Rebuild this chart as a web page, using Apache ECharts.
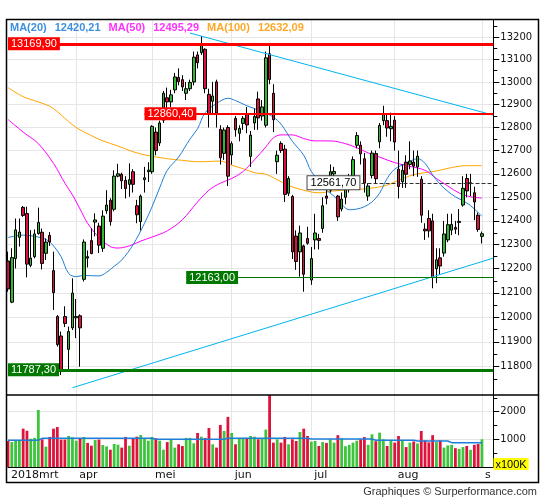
<!DOCTYPE html>
<html><head><meta charset="utf-8">
<script src="https://cdn.jsdelivr.net/npm/echarts@6/dist/echarts.min.js"></script>
<style>html,body{margin:0;padding:0;background:#fff}#c{width:545px;height:500px}</style>
</head><body><div id="c"></div>
<script>
// ---------- data ----------
const dates = [
'2018-03-06','2018-03-07','2018-03-08','2018-03-09','2018-03-12','2018-03-13','2018-03-14','2018-03-15','2018-03-16','2018-03-19','2018-03-20','2018-03-21','2018-03-22','2018-03-23','2018-03-26','2018-03-27','2018-03-28','2018-03-29',
'2018-04-03','2018-04-04','2018-04-05','2018-04-06','2018-04-09','2018-04-10','2018-04-11','2018-04-12','2018-04-13','2018-04-16','2018-04-17','2018-04-18','2018-04-19','2018-04-20','2018-04-23','2018-04-24','2018-04-25','2018-04-26','2018-04-27','2018-04-30',
'2018-05-02','2018-05-03','2018-05-04','2018-05-07','2018-05-08','2018-05-09','2018-05-10','2018-05-11','2018-05-14','2018-05-15','2018-05-16','2018-05-17','2018-05-18','2018-05-22','2018-05-23','2018-05-24','2018-05-25','2018-05-28','2018-05-29','2018-05-30','2018-05-31',
'2018-06-01','2018-06-04','2018-06-05','2018-06-06','2018-06-07','2018-06-08','2018-06-11','2018-06-12','2018-06-13','2018-06-14','2018-06-15','2018-06-18','2018-06-19','2018-06-20','2018-06-21','2018-06-22','2018-06-25','2018-06-26','2018-06-27','2018-06-28','2018-06-29',
'2018-07-02','2018-07-03','2018-07-04','2018-07-05','2018-07-06','2018-07-09','2018-07-10','2018-07-11','2018-07-12','2018-07-13','2018-07-16','2018-07-17','2018-07-18','2018-07-19','2018-07-20','2018-07-23','2018-07-24','2018-07-25','2018-07-26','2018-07-27','2018-07-30','2018-07-31',
'2018-08-01','2018-08-02','2018-08-03','2018-08-06','2018-08-07','2018-08-08','2018-08-09','2018-08-10','2018-08-13','2018-08-14','2018-08-15','2018-08-16','2018-08-17','2018-08-20','2018-08-21','2018-08-22','2018-08-23','2018-08-24','2018-08-27','2018-08-28','2018-08-29','2018-08-30','2018-08-31',
'2018-09-03'];
const emptySlots = [' ', '  ', '   '];

const opens = [12232,12062,12242,12331,12457,12431,12214,12250,12347,12352,12264,12339,12192,12003,11924,12003,11870,11957,
11998,12006,12156,12250,12317,12395,12378,12285,12443,12487,12449,12590,12598,12572,12555,12609,12464,12397,12575,12609,
12609,12780,12733,12832,12930,12912,12965,13020,13010,12950,12970,13000,13120,13130,13145,12945,12915,13000,12792,12688,12800,
12681,12840,12775,12818,12860,12675,12820,12925,12850,12810,13125,12950,12652,12731,12706,12517,12503,12336,12270,12295,12326,
12153,12320,12326,12368,12505,12530,12600,12505,12450,12500,12535,12580,12723,12723,12665,12505,12593,12687,12738,12830,12830,12795,
12832,12620,12566,12650,12640,12650,12630,12577,12365,12410,12400,12200,12245,12265,12320,12361,12372,12393,12467,12580,12558,12519,12424,
12335];
const highs = [12271,12285,12410,12410,12463,12460,12361,12364,12456,12368,12326,12353,12271,12009,11942,12045,11962,12160,
12075,12012,12322,12276,12369,12432,12392,12445,12530,12496,12615,12643,12605,12590,12645,12620,12489,12512,12630,12650,
12810,12800,12830,12960,12975,12965,13040,13060,13030,13000,13010,13135,13135,13204,13150,12970,13000,13010,12810,12800,12810,
12740,12850,12810,12850,12890,12785,12883,12957,12920,13135,13163,12990,12700,12740,12725,12590,12510,12360,12380,12300,12375,
12290,12430,12345,12500,12540,12640,12630,12510,12520,12560,12600,12675,12780,12740,12690,12560,12700,12700,12820,12895,12860,12865,
12850,12700,12640,12680,12740,12700,12700,12590,12390,12445,12430,12285,12285,12400,12430,12430,12400,12450,12590,12600,12600,12545,12435,
12355];
const lows = [12105,12058,12201,12292,12417,12164,12206,12243,12342,12197,12236,12295,12030,11881,11767,11960,11790,11948,
11915,11800,12147,12205,12260,12335,12265,12270,12430,12380,12440,12585,12535,12495,12502,12520,12390,12360,12520,12565,
12600,12680,12720,12820,12880,12890,12950,12985,12960,12920,12960,12985,13060,13120,12950,12800,12855,12800,12640,12660,12548,
12640,12760,12740,12790,12775,12630,12790,12790,12830,12800,12990,12780,12600,12690,12480,12505,12240,12195,12167,12105,12300,
12133,12280,12280,12350,12470,12520,12585,12400,12440,12470,12520,12560,12710,12640,12520,12485,12580,12560,12710,12810,12760,12740,
12700,12495,12540,12540,12620,12590,12587,12392,12320,12330,12119,12140,12174,12250,12310,12340,12345,12340,12460,12500,12505,12403,12354,
12305];
const closes = [12116,12246,12362,12353,12423,12219,12244,12345,12393,12222,12311,12311,12101,11889,11787,11975,11942,12099,
12003,11957,12311,12244,12263,12404,12298,12420,12467,12397,12590,12600,12570,12537,12575,12555,12426,12505,12583,12616,
12805,12700,12820,12950,12912,12943,13022,13001,12978,12970,12998,13110,13085,13170,12970,12861,12938,12863,12669,12789,12590,
12730,12790,12796,12840,12811,12767,12848,12842,12890,13107,13011,12834,12680,12700,12512,12580,12270,12230,12349,12177,12306,
12242,12349,12318,12464,12496,12609,12610,12417,12492,12541,12561,12661,12765,12686,12561,12548,12689,12579,12809,12860,12798,12805,
12737,12546,12615,12598,12655,12633,12676,12424,12358,12358,12163,12237,12211,12345,12384,12385,12365,12398,12538,12527,12562,12480,12364,
12346];
const volumes = [940,900,960,960,1385,1310,1020,1050,2060,1000,735,1085,1385,1445,990,990,1120,1070,
950,1035,1085,870,770,975,990,795,745,625,830,805,700,1085,770,1035,1095,1155,1035,950,
1085,1035,950,625,900,1010,700,820,760,1050,1050,855,1230,1095,1050,1410,820,700,1520,1300,1810,
1230,820,1050,1050,1050,1120,1095,1000,1050,1350,2600,880,1000,880,1085,820,1000,940,1265,1385,1120,
915,940,760,900,870,1000,880,1150,1030,750,800,880,950,1000,1080,800,1180,930,1240,1000,760,950,
880,1120,970,720,880,920,850,1300,960,890,1150,900,960,700,780,800,680,650,720,760,620,800,830,
1000];

// moving averages (candle index, value)
const ma20At  = [0,4,7,10,12,14,16,18,20,24,26,28,30,33,36,38,40,42,45,48,50,52,55,58,60,63,67,70,72,75,78,80,82,84,86,88,90,92,94,96,98,100,102,105,108,110,112,114,116,118,120,122,124,125];
const ma20Val = [12330,12340,12335,12322,12295,12250,12180,12167,12172,12170,12185,12210,12236,12300,12390,12460,12540,12615,12672,12750,12795,12865,12905,12928,12918,12895,12870,12845,12815,12740,12680,12610,12570,12530,12505,12470,12447,12450,12460,12480,12517,12580,12620,12645,12665,12645,12595,12555,12525,12502,12485,12465,12435,12420];
const ma50At  = [0,4,8,12,15,17,19,21,24,27,29,32,35,38,42,46,50,53,56,59,62,65,68,70,72,75,78,81,85,89,92,95,98,102,106,110,113,116,119,122,125];
const ma50Val = [12835,12780,12730,12645,12560,12510,12450,12390,12330,12292,12286,12295,12315,12332,12358,12405,12480,12530,12560,12580,12610,12660,12716,12755,12768,12768,12752,12742,12742,12730,12712,12690,12672,12648,12632,12615,12580,12548,12518,12502,12497];
const ma100At  = [0,4,8,11,13,15,17,19,22,25,29,33,37,42,46,50,53,56,59,62,65,68,71,74,78,82,86,91,95,100,104,108,113,117,121,125];
const ma100Val = [12975,12935,12912,12893,12870,12840,12812,12790,12765,12742,12720,12695,12678,12665,12658,12652,12653,12655,12637,12622,12605,12598,12575,12550,12530,12519,12527,12533,12537,12552,12580,12600,12612,12627,12635,12635];
const maLegendNames  = ['MA(20)', 'MA(50)', 'MA(100)'];
const maLegendValues = [12420.21, 12495.29, 12632.09];

const volMaAt  = [0,8,9,38,39,57,58,79,80,96,97,107,108,116,117,125];
const volMaVal = [965,965,1035,1035,1000,1000,1035,1035,1010,1010,965,965,940,940,880,880];

// trend lines (candle index, value)
const trendDownAt = [48, 128], trendDownVal = [13218, 12854];
const trendUpAt   = [17, 128], trendUpVal   = [11716, 12244];

// horizontal levels
const levelValues  = [13169.90, 12860.40, 12163.00, 11787.30, 12561.70];
const levelStartAt = [0, 36, 47, 0, 79];

const monthStartAt = [0, 18, 38, 59, 80, 102, 125];
const monthLabels  = ['2018mrt', 'apr', 'mei', 'jun', 'jul', 'aug', 's'];

const priceTicks = [11800,11900,12000,12100,12200,12300,12400,12500,12600,12700,12800,12900,13000,13100,13200];
const priceMinorTicks = [11750,11850,11950,12050,12150,12250,12350,12450,12550,12650,12750,12850,12950,13050,13150,13250];
const volTicks = [1000, 2000];
const volMinorTicks = [500, 1500, 2500];

// ---------- styles ----------
const C_UP = '#33b833', C_DOWN = '#d8123c';
const V_UP = '#3cc43c', V_DOWN = '#dc143c';
const GRIDC = '#e6e6e6';
const levelStyle = [
  {line:'#ff0000', w:3, type:'solid', bg:'#ff0000', fg:'#fff', border:null},
  {line:'#ff0000', w:2, type:'solid', bg:'#ff0000', fg:'#fff', border:null},
  {line:'#007800', w:1, type:'solid', bg:'#007800', fg:'#fff', border:null},
  {line:'#007800', w:3, type:'solid', bg:'#007800', fg:'#fff', border:null},
  {line:'#333333', w:1, type:'dashed', bg:'#ffffff', fg:'#000', border:'#444'}
];
const fmt = v => v.toFixed(2).replace('.', ',');
const categories = dates.concat(emptySlots);
const lastIdx = categories.length - 1;
const pairs = (a, b) => a.map((x, k) => [x, b[k]]);

const chart = echarts.init(document.getElementById('c'), null, {renderer: 'canvas'});

const GL = 8, GR = 545 - 493.3;
const PRICE_MIN = 11687, PRICE_MAX = 13279;

const logAxisBase = {
  type: 'log', logBase: 10, gridIndex: 0, position: 'right',
  min: PRICE_MIN, max: PRICE_MAX
};

const markData = levelValues.map((v, k) => {
  const s = levelStyle[k];
  return [
    { coord: [levelStartAt[k], v],
      lineStyle: { color: s.line, width: s.w, type: s.type },
      label: {
        show: true, position: 'insideStart', distance: [0, 0],
        formatter: fmt(v), color: s.fg, backgroundColor: s.bg,
        borderColor: s.border || 'transparent', borderWidth: s.border ? 1 : 0,
        padding: [1, 3, 0, 3], fontFamily: 'Liberation Sans', fontSize: 11, lineHeight: 12
      } },
    { coord: [lastIdx, v] }
  ];
});

const rich = {};
const legendColors = ['#3d8fe0', '#ff33ff', '#ffa726'];
let titleText = '';
maLegendNames.forEach((n, k) => {
  rich['n' + k] = { color: legendColors[k], fontFamily: 'Liberation Sans', fontSize: 11, padding: [0, 8, 0, 0] };
  rich['v' + k] = { color: legendColors[k], fontFamily: 'Liberation Sans', fontSize: 11, padding: [0, 8, 0, 0] };
  titleText += '{n' + k + '|' + n + '}{v' + k + '|' + fmt(maLegendValues[k]) + '}';
});

const isMonthStart = (i) => monthStartAt.indexOf(i) >= 0;

chart.setOption({
  animation: false,
  backgroundColor: '#fff',
  title: { text: titleText, left: 10, top: 21, padding: 0, textStyle: { rich: rich, fontSize: 11, lineHeight: 13 } },
  grid: [
    { left: GL, right: GR, top: 19.5, height: 375.5, containLabel: false },
    { left: GL, right: GR, top: 395, height: 72, containLabel: false }
  ],
  xAxis: [
    { type: 'category', gridIndex: 0, data: categories, boundaryGap: false,
      axisLine: { show: false }, axisTick: { show: false }, axisLabel: { show: false },
      splitLine: { show: true, interval: (i) => isMonthStart(i) && i > 0, lineStyle: { color: GRIDC, width: 1 } } },
    { type: 'category', gridIndex: 1, data: categories, boundaryGap: false,
      axisLine: { show: true, lineStyle: { color: '#000', width: 1 } }, axisTick: { show: false },
      axisLabel: { show: true, interval: (i) => isMonthStart(i), align: 'left', padding: [0, 0, 0, 3], margin: 3,
        formatter: (val, i) => monthLabels[monthStartAt.indexOf(i)] || '',
        fontFamily: 'DejaVu Sans', fontSize: 11, color: '#111' },
      splitLine: { show: true, interval: (i) => isMonthStart(i) && i > 0, lineStyle: { color: GRIDC, width: 1 } } }
  ],
  yAxis: [
    Object.assign({}, logAxisBase, {
      axisLine: { show: true, lineStyle: { color: '#000', width: 1 } },
      axisTick: { show: true, inside: false, length: 6, customValues: priceTicks, lineStyle: { color: '#000' } },
      axisLabel: { show: true, customValues: priceTicks, margin: 7, formatter: v => String(Math.round(v)),
        fontFamily: 'DejaVu Sans', fontSize: 10, color: '#111' },
      splitLine: { show: true, lineStyle: { color: GRIDC, width: 1 } }
    }),
    Object.assign({}, logAxisBase, {
      axisLine: { show: false },
      axisTick: { show: true, inside: false, length: 4, customValues: priceMinorTicks, lineStyle: { color: '#000' } },
      axisLabel: { show: false },
      splitLine: { show: false }
    }),
    { type: 'value', gridIndex: 1, position: 'right', min: 0, max: 2600,
      axisLine: { show: true, lineStyle: { color: '#000', width: 1 } },
      axisTick: { show: true, length: 6, customValues: volTicks, lineStyle: { color: '#000' } },
      axisLabel: { show: true, customValues: volTicks, margin: 7, formatter: v => String(Math.round(v)),
        fontFamily: 'DejaVu Sans', fontSize: 10, color: '#111' },
      splitLine: { show: true, lineStyle: { color: GRIDC, width: 1 } } },
    { type: 'value', gridIndex: 1, position: 'right', min: 0, max: 2600,
      axisLine: { show: false },
      axisTick: { show: true, length: 4, customValues: volMinorTicks, lineStyle: { color: '#000' } },
      axisLabel: { show: false }, splitLine: { show: false } }
  ],
  series: [
    { type: 'line', name: 'MA100', xAxisIndex: 0, yAxisIndex: 0, data: pairs(ma100At, ma100Val),
      showSymbol: false, smooth: 0.35, lineStyle: { color: '#ffa500', width: 1 }, z: 2 },
    { type: 'line', name: 'MA50', xAxisIndex: 0, yAxisIndex: 0, data: pairs(ma50At, ma50Val),
      showSymbol: false, smooth: 0.35, lineStyle: { color: '#ff00ff', width: 1 }, z: 2 },
    { type: 'line', name: 'MA20', xAxisIndex: 0, yAxisIndex: 0, data: pairs(ma20At, ma20Val),
      showSymbol: false, smooth: 0.35, lineStyle: { color: '#1f7fd8', width: 1 }, z: 2 },
    { type: 'candlestick', xAxisIndex: 0, yAxisIndex: 0, barWidth: 3,
      data: opens.map((o, i) => [o, closes[i], lows[i], highs[i]]),
      itemStyle: { color: C_UP, color0: C_DOWN, borderColor: '#000', borderColor0: '#000', borderColorDoji: '#000', borderWidth: 1 },
      z: 3,
      markLine: { silent: true, symbol: ['none', 'none'], animation: false, data: markData, z: 6 } },
    { type: 'line', name: 'trendDown', xAxisIndex: 0, yAxisIndex: 0, data: pairs(trendDownAt, trendDownVal),
      showSymbol: false, lineStyle: { color: '#00b4f0', width: 1 }, z: 4 },
    { type: 'line', name: 'trendUp', xAxisIndex: 0, yAxisIndex: 0, data: pairs(trendUpAt, trendUpVal),
      showSymbol: false, lineStyle: { color: '#00b4f0', width: 1 }, z: 4 },
    { type: 'bar', xAxisIndex: 1, yAxisIndex: 2, barWidth: 2.8,
      data: volumes.map((v, i) => ({ value: v, itemStyle: { color: closes[i] >= opens[i] ? V_UP : V_DOWN } })) },
    { type: 'line', xAxisIndex: 1, yAxisIndex: 2, data: pairs(volMaAt, volMaVal),
      showSymbol: false, lineStyle: { color: '#1f7fd8', width: 1.5 }, z: 4 }
  ],
  graphic: [
    { type: 'rect', shape: { x: 6.5, y: 19.5, width: 532, height: 463 }, style: { fill: 'none', stroke: '#000', lineWidth: 1.5 }, z: 100, silent: true },
    { type: 'line', shape: { x1: 6.5, y1: 395, x2: 538.5, y2: 395 }, style: { stroke: '#000', lineWidth: 1.5 }, z: 100, silent: true },
    { type: 'text', x: 493.5, y: 458, z: 101, silent: true,
      style: { text: 'x100K', fill: '#000', font: '11px "Liberation Sans"', backgroundColor: '#ffff00', padding: [1, 2, 0, 2] } },
    { type: 'text', x: 537, y: 491.5, z: 101, silent: true,
      style: { text: 'Graphiques \u00a9 Surperformance.com', fill: '#333', font: '11px "Liberation Sans"', align: 'right', verticalAlign: 'middle' } }
  ]
});
</script></body></html>
